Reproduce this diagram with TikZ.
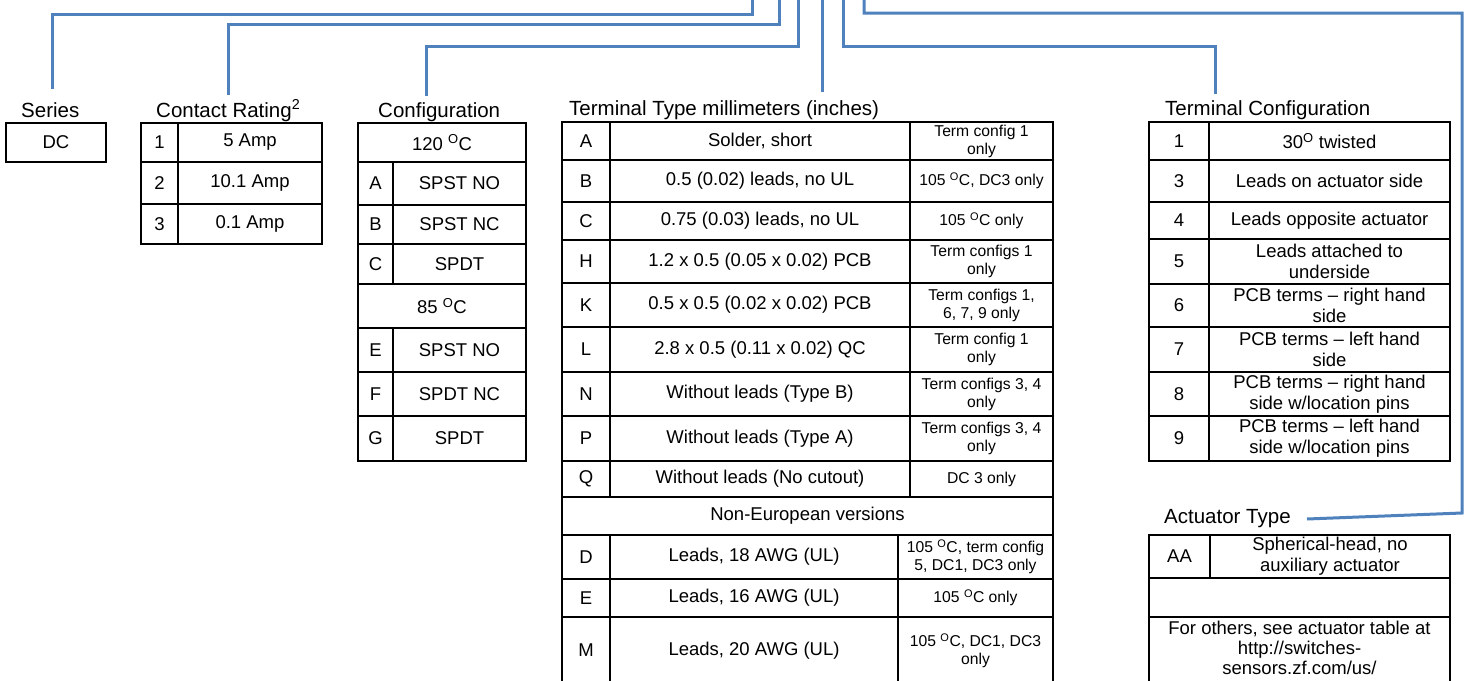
\documentclass[tikz,border=0pt]{standalone}
\usepackage{fontspec}
\setmainfont{Liberation Sans}
\definecolor{connblue}{HTML}{4F81BD}
\newcommand{\titlefont}{\fontsize{20.5}{23.5}\selectfont}
\newcommand{\bodyfont}{\fontsize{18.5}{21.3}\selectfont}
\newcommand{\smallfont}{\fontsize{15.7}{18}\selectfont}
\newcommand{\degO}{\textsuperscript{O}}
\tikzset{
  conn/.style={draw=connblue, line width=3pt},
  cellbox/.style={draw=black, line width=2pt, rectangle, inner sep=0pt, outer sep=0pt,
    anchor=north west, align=center, font=\bodyfont},
  sm/.style={font=\smallfont},
  title/.style={inner sep=0pt, anchor=base west, font=\titlefont},
}
% [style] x1 y1 x2 y2 name text
\newcommand{\mkcell}[7][]{%
  \node[cellbox,#1,minimum width={(#4-#2)*1pt},minimum height={(#5-#3)*1pt}] (#6) at (#2,#3) {#7};}
\begin{document}
\begin{tikzpicture}[x=1pt,y=-1pt]
\useasboundingbox (0,0) rectangle (1466,680);

% ---------- titles
\node[title] (tSer) at (21,117) {Series};
\node[title] (tCR)  at (156,117) {Contact Rating\textsuperscript{2}};
\node[title] (tCfg) at (378,117) {Configuration};
\node[title] (tTT)  at (569,115) {Terminal Type millimeters (inches)};
\node[title] (tTC)  at (1165,115) {Terminal Configuration};
\node[title] (tAT)  at (1164,523) {Actuator Type};

% ---------- Series
\mkcell{6}{123}{106}{162}{ser}{DC}

% ---------- Contact rating
\mkcell{141}{123}{178}{162}{cr1k}{1}
\mkcell{178}{123}{322}{162}{cr1v}{5 Amp}
\mkcell{141}{162}{178}{204}{cr2k}{2}
\mkcell{178}{162}{322}{204}{cr2v}{10.1 Amp}
\mkcell{141}{204}{178}{244}{cr3k}{3}
\mkcell{178}{204}{322}{244}{cr3v}{0.1 Amp}

% ---------- Configuration
\mkcell{358}{123}{526}{162}{cf120}{120 \degO C}
\mkcell{358}{162}{393}{205}{cfAk}{A}
\mkcell{393}{162}{526}{205}{cfAv}{SPST NO}
\mkcell{358}{205}{393}{244}{cfBk}{B}
\mkcell{393}{205}{526}{244}{cfBv}{SPST NC}
\mkcell{358}{244}{393}{284}{cfCk}{C}
\mkcell{393}{244}{526}{284}{cfCv}{SPDT}
\mkcell{358}{284}{526}{328}{cf85}{85 \degO C}
\mkcell{358}{328}{393}{372}{cfEk}{E}
\mkcell{393}{328}{526}{372}{cfEv}{SPST NO}
\mkcell{358}{372}{393}{416}{cfFk}{F}
\mkcell{393}{372}{526}{416}{cfFv}{SPDT NC}
\mkcell{358}{416}{393}{461}{cfGk}{G}
\mkcell{393}{416}{526}{461}{cfGv}{SPDT}

% ---------- Terminal type
\mkcell{562}{122}{610}{160}{ttAk}{A}
\mkcell{610}{122}{910}{160}{ttAv}{Solder, short}
\mkcell[sm]{910}{122}{1053}{160}{ttAn}{Term config 1\\only}
\mkcell{562}{160}{610}{202}{ttBk}{B}
\mkcell{610}{160}{910}{202}{ttBv}{0.5 (0.02) leads, no UL}
\mkcell[sm]{910}{160}{1053}{202}{ttBn}{105 \degO C, DC3 only}
\mkcell{562}{202}{610}{240}{ttCk}{C}
\mkcell{610}{202}{910}{240}{ttCv}{0.75 (0.03) leads, no UL}
\mkcell[sm]{910}{202}{1053}{240}{ttCn}{105 \degO C only}
\mkcell{562}{240}{610}{283}{ttHk}{H}
\mkcell{610}{240}{910}{283}{ttHv}{1.2 x 0.5 (0.05 x 0.02) PCB}
\mkcell[sm]{910}{240}{1053}{283}{ttHn}{Term configs 1\\only}
\mkcell{562}{283}{610}{327}{ttKk}{K}
\mkcell{610}{283}{910}{327}{ttKv}{0.5 x 0.5 (0.02 x 0.02) PCB}
\mkcell[sm]{910}{283}{1053}{327}{ttKn}{Term configs 1,\\6, 7, 9 only}
\mkcell{562}{327}{610}{372}{ttLk}{L}
\mkcell{610}{327}{910}{372}{ttLv}{2.8 x 0.5 (0.11 x 0.02) QC}
\mkcell[sm]{910}{327}{1053}{372}{ttLn}{Term config 1\\only}
\mkcell{562}{372}{610}{416}{ttNk}{N}
\mkcell{610}{372}{910}{416}{ttNv}{Without leads (Type B)}
\mkcell[sm]{910}{372}{1053}{416}{ttNn}{Term configs 3, 4\\only}
\mkcell{562}{416}{610}{461}{ttPk}{P}
\mkcell{610}{416}{910}{461}{ttPv}{Without leads (Type A)}
\mkcell[sm]{910}{416}{1053}{461}{ttPn}{Term configs 3, 4\\only}
\mkcell{562}{461}{610}{497}{ttQk}{Q}
\mkcell{610}{461}{910}{497}{ttQv}{Without leads (No cutout)}
\mkcell[sm]{910}{461}{1053}{497}{ttQn}{DC 3 only}
\mkcell{562}{497}{1053}{535}{ttNE}{Non-European versions}
\mkcell{562}{535}{610}{579}{ttDk}{D}
\mkcell{610}{535}{898}{579}{ttDv}{Leads, 18 AWG (UL)}
\mkcell[sm]{898}{535}{1053}{579}{ttDn}{105 \degO C, term config\\5, DC1, DC3 only}
\mkcell{562}{579}{610}{617}{ttEk}{E}
\mkcell{610}{579}{898}{617}{ttEv}{Leads, 16 AWG (UL)}
\mkcell[sm]{898}{579}{1053}{617}{ttEn}{105 \degO C only}
\mkcell{562}{617}{610}{684}{ttMk}{M}
\mkcell{610}{617}{898}{684}{ttMv}{Leads, 20 AWG (UL)}
\mkcell[sm]{898}{617}{1053}{684}{ttMn}{105 \degO C, DC1, DC3\\only}

% ---------- Terminal configuration
\mkcell{1149}{122}{1209}{160}{tc1k}{1}
\mkcell{1209}{122}{1450}{160}{tc1v}{30\degO\ twisted}
\mkcell{1149}{160}{1209}{202}{tc3k}{3}
\mkcell{1209}{160}{1450}{202}{tc3v}{Leads on actuator side}
\mkcell{1149}{202}{1209}{239}{tc4k}{4}
\mkcell{1209}{202}{1450}{239}{tc4v}{Leads opposite actuator}
\mkcell{1149}{239}{1209}{284}{tc5k}{5}
\mkcell{1209}{239}{1450}{284}{tc5v}{Leads attached to\\underside}
\mkcell{1149}{284}{1209}{327}{tc6k}{6}
\mkcell{1209}{284}{1450}{327}{tc6v}{PCB terms -- right hand\\side}
\mkcell{1149}{327}{1209}{372}{tc7k}{7}
\mkcell{1209}{327}{1450}{372}{tc7v}{PCB terms -- left hand\\side}
\mkcell{1149}{372}{1209}{416}{tc8k}{8}
\mkcell{1209}{372}{1450}{416}{tc8v}{PCB terms -- right hand\\side w/location pins}
\mkcell{1149}{416}{1209}{461}{tc9k}{9}
\mkcell{1209}{416}{1450}{461}{tc9v}{PCB terms -- left hand\\side w/location pins}

% ---------- Actuator type
\mkcell{1149}{535}{1210}{578}{atAk}{AA}
\mkcell{1210}{535}{1450}{578}{atAv}{Spherical-head, no\\auxiliary actuator}
\mkcell{1149}{578}{1450}{617}{atEmpty}{}
\mkcell{1149}{617}{1450}{690}{atOther}{}
\node[inner sep=0pt, align=center, font=\fontsize{18.5}{20}\selectfont] (atText) at (1299.5,648)
  {For others, see actuator table at\\http://switches-\\sensors.zf.com/us/};

% ---------- connectors
\coordinate (sA) at (752,-3);  \coordinate (eSer) at (52,89);
\coordinate (sB) at (779,-3);  \coordinate (eCR)  at (228,95);
\coordinate (sC) at (798,-3);  \coordinate (eCfg) at (426,96);
\coordinate (sD) at (822,-3);  \coordinate (eTT)  at (822,92);
\coordinate (sE) at (843,-3);  \coordinate (eTC)  at (1215,94);
\coordinate (sF) at (864,-3);  \coordinate (cF)   at (1462,513);
\coordinate (eAT) at (1307,519);

\draw[conn] (sA) -- ++(0,17) -| (eSer);
\draw[conn] (sB) -- ++(0,27) -| (eCR);
\draw[conn] (sC) -- ++(0,49) -| (eCfg);
\draw[conn] (sD) -- (eTT);
\draw[conn] (sE) -- ++(0,49) -| (eTC);
\draw[conn] (sF) -- ++(0,16) -| (cF) -- (eAT);
\end{tikzpicture}
\end{document}
